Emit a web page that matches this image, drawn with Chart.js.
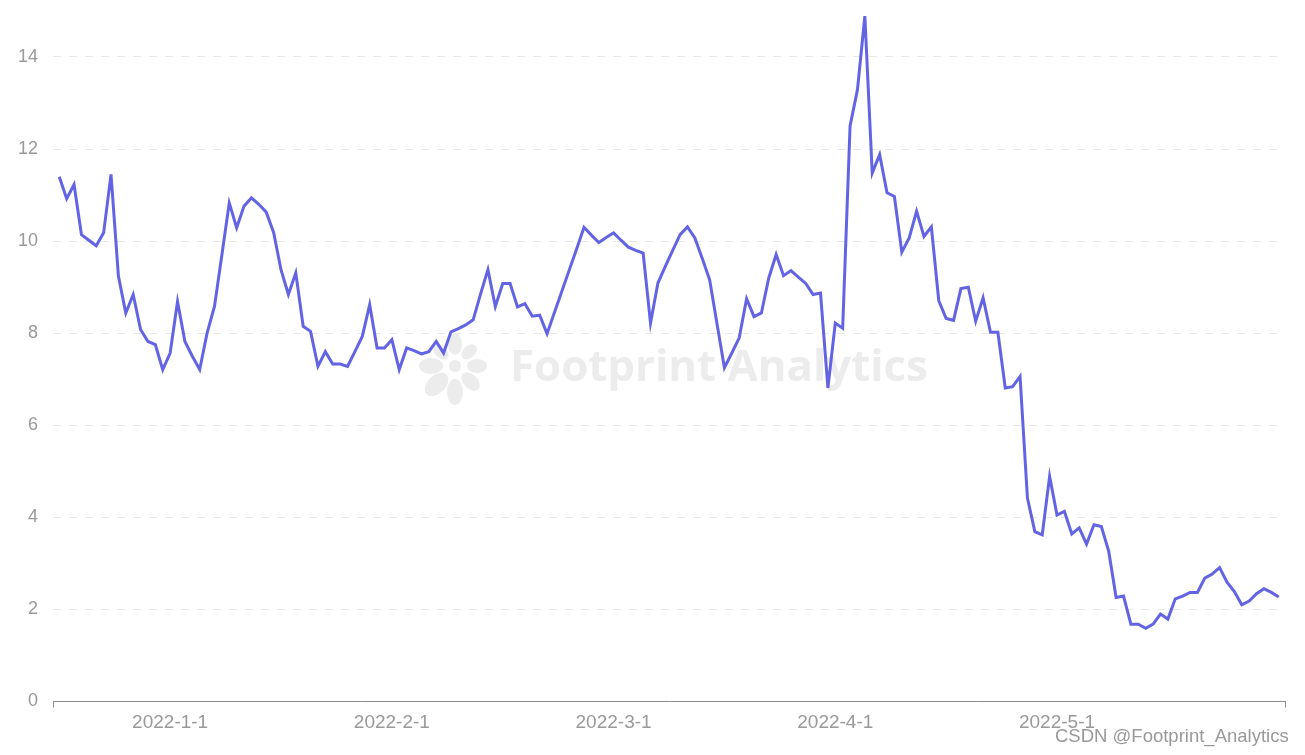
<!DOCTYPE html>
<html>
<head>
<meta charset="utf-8">
<script src="https://cdn.jsdelivr.net/npm/chart.js@4/dist/chart.umd.min.js"></script>
<style>
  body { margin: 0; background: #fff; }
  #wrap { position: relative; width: 1305px; height: 755px; }
  #credit {
    position: absolute; left: 1055px; top: 725px;
    font: 18.5px "Liberation Sans", Arial, sans-serif; color: #999;
    white-space: nowrap;
  }
</style>
</head>
<body>
<div id="wrap">
  <canvas id="chart" width="1305" height="755"></canvas>
  <div id="credit">CSDN @Footprint_Analytics</div>
</div>
<script>
// one value per point, left to right
const values = [
  11.40, 10.92, 11.23, 10.14, 10.02, 9.90, 10.18, 11.45, 9.24, 8.44,
  8.84, 8.08, 7.82, 7.75, 7.21, 7.57, 8.69, 7.82, 7.50, 7.21,
  8.00, 8.58, 9.70, 10.83, 10.29, 10.76, 10.94, 10.80, 10.63, 10.19,
  9.38, 8.84, 9.31, 8.15, 8.04, 7.28, 7.60, 7.33, 7.33, 7.28,
  7.60, 7.93, 8.62, 7.68, 7.68, 7.86, 7.21, 7.68, 7.62, 7.55,
  7.60, 7.82, 7.57, 8.03, 8.10, 8.18, 8.29, 8.85, 9.38, 8.58,
  9.08, 9.08, 8.57, 8.64, 8.37, 8.39, 7.99, 8.45, 8.91, 9.37,
  9.83, 10.30, 10.13, 9.97, 10.08, 10.18, 10.02, 9.87, 9.80, 9.74,
  8.22, 9.09, 9.45, 9.80, 10.14, 10.31, 10.07, 9.62, 9.16, 8.20,
  7.25, 7.57, 7.90, 8.75, 8.36, 8.44, 9.20, 9.71, 9.25, 9.36,
  9.22, 9.08, 8.84, 8.87, 6.81, 8.22, 8.11, 12.50, 13.29, 14.89,
  11.48, 11.88, 11.05, 10.97, 9.76, 10.07, 10.65, 10.10, 10.31, 8.71,
  8.32, 8.28, 8.97, 9.00, 8.26, 8.77, 8.02, 8.02, 6.81, 6.84,
  7.06, 4.42, 3.69, 3.62, 4.89, 4.05, 4.13, 3.64, 3.77, 3.42,
  3.84, 3.80, 3.26, 2.26, 2.29, 1.68, 1.68, 1.59, 1.68, 1.90,
  1.79, 2.23, 2.29, 2.37, 2.37, 2.68, 2.77, 2.91, 2.59, 2.39,
  2.10, 2.18, 2.34, 2.45, 2.37, 2.27
];

// x-axis labels and the point index they sit on
const tickIndex = [15, 45, 75, 105, 135];
const tickLabels = ['2022-1-1', '2022-2-1', '2022-3-1', '2022-4-1', '2022-5-1'];
const yTicks = [0, 2, 4, 6, 8, 10, 12, 14];

const lineColor = 'rgb(98,100,228)';
const labelFont = '"Liberation Sans", Arial, sans-serif';

// faint logo + name behind the line
const watermark = {
  id: 'watermark',
  beforeDatasetsDraw(chart) {
    const c = chart.ctx;
    c.save();
    c.fillStyle = '#ececec';
    const cx = 455, cy = 366;
    const petals = [
      [-90, 22, 7, 11], [-45, 20, 6, 9], [0, 22, 7, 10], [45, 22, 7, 11],
      [90, 26, 8, 13], [135, 26, 9, 14], [180, 24, 8, 12], [225, 20, 6, 9]
    ];
    petals.forEach(p => {
      const a = p[0] * Math.PI / 180;
      c.beginPath();
      c.ellipse(cx + Math.cos(a) * p[1], cy + Math.sin(a) * p[1], p[3], p[2], a, 0, Math.PI * 2);
      c.fill();
    });
    c.beginPath();
    c.arc(cx, cy, 6, 0, Math.PI * 2);
    c.fill();

    const text = 'Footprint Analytics';
    c.font = 'bold 44px "Open Sans", sans-serif';
    const w = c.measureText(text).width;
    const size = 44 * 418 / w;
    c.font = 'bold ' + size.toFixed(1) + 'px "Open Sans", sans-serif';
    c.textBaseline = 'alphabetic';
    c.fillText(text, 510, 381);
    c.restore();
  }
};

new Chart(document.getElementById('chart'), {
  type: 'line',
  data: {
    datasets: [{
      data: values.map((v, i) => ({ x: i, y: v })),
      borderColor: lineColor,
      borderWidth: 3,
      pointRadius: 0,
      tension: 0,
      fill: false
    }]
  },
  options: {
    responsive: false,
    animation: false,
    devicePixelRatio: 1,
    layout: { padding: { left: 0, right: 20, top: 16, bottom: 0 } },
    plugins: {
      legend: { display: false },
      tooltip: { enabled: false }
    },
    scales: {
      x: {
        type: 'linear',
        min: -0.85,
        max: 165.85,
        afterBuildTicks: s => {
          s.ticks = [s.min].concat(tickIndex, [s.max]).map(v => ({ value: v }));
        },
        afterFit: s => {
          s.height = 53.5;
          s.paddingLeft = 0;
          s.paddingRight = 0;
        },
        ticks: {
          autoSkip: false,
          maxRotation: 0,
          padding: 4,
          color: '#999',
          font: { size: 19, family: labelFont },
          callback: v => {
            const k = tickIndex.indexOf(v);
            return k < 0 ? '' : tickLabels[k];
          }
        },
        grid: {
          drawOnChartArea: false,
          drawTicks: true,
          tickLength: 6,
          color: c => (c.tick && tickIndex.indexOf(c.tick.value) < 0) ? '#8c8c8c' : 'rgba(0,0,0,0)'
        },
        border: { display: true, color: '#8c8c8c', width: 1 }
      },
      y: {
        min: 0,
        max: Math.max(...values),
        afterBuildTicks: s => {
          s.ticks = yTicks.map(v => ({ value: v }));
        },
        afterFit: s => {
          s.width = 53;
          s.paddingTop = 0;
          s.paddingBottom = 0;
        },
        ticks: {
          padding: 15,
          color: '#999',
          font: { size: 18, family: labelFont }
        },
        grid: {
          drawTicks: false,
          color: c => (c.tick && c.tick.value === 0) ? 'rgba(0,0,0,0)' : '#e8e8e8',
          lineWidth: 1
        },
        border: { display: false, dash: [8, 8] }
      }
    }
  },
  plugins: [watermark]
});
</script>
</body>
</html>
